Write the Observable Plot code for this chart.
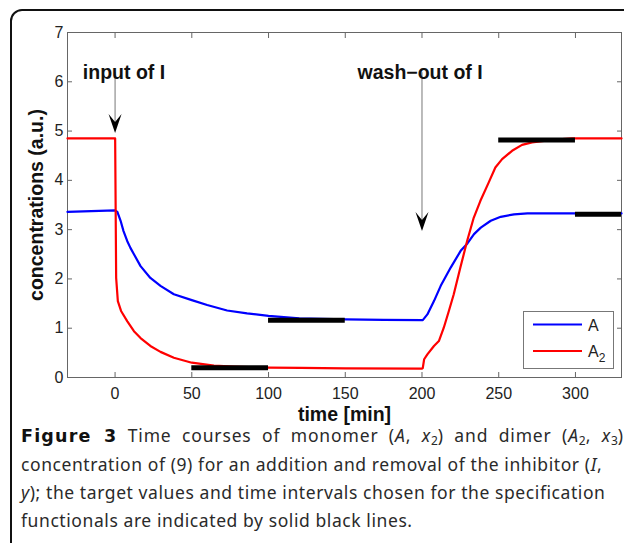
<!DOCTYPE html>
<html><head><meta charset="utf-8">
<script src="https://cdn.jsdelivr.net/npm/d3@7"></script>
<script src="https://cdn.jsdelivr.net/npm/@observablehq/plot@0.6"></script>
<style>
html,body{margin:0;padding:0;background:#fff;}
body{width:624px;height:543px;overflow:hidden;position:relative;font-family:"Liberation Sans",Arial,sans-serif;}
#chart{position:absolute;left:0;top:0;}
#frame{position:absolute;left:10px;top:9px;width:700px;height:600px;border:2px solid #111;border-top-left-radius:12px;pointer-events:none;}
#legend{position:absolute;left:523px;top:311px;}
#caption{position:absolute;left:21px;top:421px;white-space:nowrap;font-family:"Noto Sans",sans-serif;font-size:17.5px;letter-spacing:0.58px;line-height:28px;color:#2a2a2a;}
#caption b{font-family:"DejaVu Sans",sans-serif;font-weight:bold;font-size:17.5px;letter-spacing:1.2px;color:#111;}
#caption sub{font-size:12px;line-height:0;vertical-align:-3px;letter-spacing:0;}
#caption .l1{word-spacing:5px;letter-spacing:0.85px;}
</style></head>
<body>
<div id="chart"></div>
<div id="legend"></div>
<div id="caption"><span class="l1"><b>Figure 3</b> Time courses of monomer (<i>A</i>, <i>x</i><sub>2</sub>) and dimer (<i>A</i><sub>2</sub>, <i>x</i><sub>3</sub>)</span><br>concentration of (9) for an addition and removal of the inhibitor (<i>I</i>,<br><i>y</i>); the target values and time intervals chosen for the specification<br>functionals are indicated by solid black lines.</div>
<div id="frame"></div>
<script>
// ---- data ----
const timeA = [-31, 0, 1.5, 3.6, 5.5, 7.9, 10, 12.3, 16.6, 23, 29.6, 38.3, 50, 60, 73, 86, 100, 120, 150, 175, 200, 200.5, 203.5, 207.8, 212.2, 218.7, 225.2, 229.6, 233.9, 238.3, 244.8, 251.3, 260, 268.7, 285, 300, 330];
const valueA = [3.36, 3.39, 3.36, 3.18, 2.97, 2.77, 2.63, 2.5, 2.26, 2.02, 1.86, 1.69, 1.57, 1.47, 1.36, 1.30, 1.25, 1.20, 1.18, 1.17, 1.165, 1.165, 1.28, 1.55, 1.86, 2.23, 2.57, 2.72, 2.91, 3.04, 3.18, 3.26, 3.31, 3.33, 3.33, 3.33, 3.33];
const timeA2 = [-31, 0, 0.05, 0.7, 1.8, 3.9, 8, 12.3, 16.6, 23, 29.6, 38.3, 50, 64.4, 77.5, 100, 121, 150, 200, 200.5, 201.4, 203.5, 207.8, 211, 214.2, 217.5, 220.7, 225, 229.4, 233.7, 238, 243.5, 247.8, 252.2, 258.7, 265.2, 271.7, 284.8, 297.8, 330];
const valueA2 = [4.85, 4.85, 4.85, 2.02, 1.55, 1.35, 1.14, 0.94, 0.80, 0.64, 0.52, 0.40, 0.30, 0.24, 0.22, 0.20, 0.195, 0.185, 0.18, 0.19, 0.37, 0.47, 0.64, 0.74, 1.01, 1.35, 1.69, 2.23, 2.77, 3.24, 3.58, 3.96, 4.26, 4.43, 4.60, 4.72, 4.77, 4.82, 4.85, 4.85];
const targetStart = [50, 100, 250, 300];
const targetEnd = [100, 150, 300, 330];
const targetValue = [0.2, 1.16, 4.82, 3.31];
const xTicks = [0, 50, 100, 150, 200, 250, 300];
const yTicks = [0, 1, 2, 3, 4, 5, 6, 7];
const annotations = ["input of I", "wash\u2212out of I"];
const annotationX = [-21, 158];
const annotationY = [6.19, 6.19];
const arrowX = [0, 200];
const arrowTop = [5.98, 5.98];
const arrowTip = [4.96, 2.97];
const seriesNames = ["A", "A2"];
const seriesColors = ["#0000ff", "#ff0000"];

const lineA = timeA.map((t, i) => ({t, v: valueA[i]}));
const lineA2 = timeA2.map((t, i) => ({t, v: valueA2[i]}));
const targets = targetStart.map((s, i) => ({x1: s, x2: targetEnd[i], y: targetValue[i]}));
const notes = annotations.map((s, i) => ({s, x: annotationX[i], y: annotationY[i]}));
const arrows = arrowX.map((x, i) => ({x, y1: arrowTop[i], y2: arrowTip[i]}));

const dart = {
  draw(ctx) {
    ctx.moveTo(0, 0);
    ctx.lineTo(6.5, -19);
    ctx.lineTo(0, -11);
    ctx.lineTo(-6.5, -19);
    ctx.closePath();
  }
};

const tickFont = {fontSize: 16, fill: "#222"};
const chart = Plot.plot({
  width: 624,
  height: 430,
  marginLeft: 67,
  marginRight: 3,
  marginTop: 32,
  marginBottom: 53,
  style: {fontFamily: "'Liberation Sans', Arial, sans-serif", background: "transparent"},
  x: {domain: [-31, 330]},
  y: {domain: [0, 7]},
  marks: [
    Plot.axisX({ticks: xTicks, tickSize: 0, tickPadding: 10, label: null, ...tickFont}),
    Plot.axisX({ticks: xTicks, tickSize: -5, tickFormat: () => "", label: null, stroke: "#666"}),
    Plot.axisX({ticks: xTicks, anchor: "top", tickSize: -5, tickFormat: () => "", label: null, stroke: "#666"}),
    Plot.axisY({ticks: yTicks, tickSize: 0, tickPadding: 4, tickFormat: "d", label: null, ...tickFont}),
    Plot.axisY({ticks: yTicks, tickSize: -5, tickFormat: () => "", label: null, stroke: "#666"}),
    Plot.axisY({ticks: yTicks, anchor: "right", tickSize: -5, tickFormat: () => "", label: null, stroke: "#666"}),
    Plot.frame({stroke: "#666"}),
    Plot.line(lineA, {x: "t", y: "v", stroke: seriesColors[0], strokeWidth: 2.2}),
    Plot.line(lineA2, {x: "t", y: "v", stroke: seriesColors[1], strokeWidth: 2.2}),
    Plot.ruleY(targets, {x1: "x1", x2: "x2", y: "y", stroke: "#000", strokeWidth: 5}),
    Plot.ruleX(arrows, {x: "x", y1: "y1", y2: "y2", stroke: "#777", strokeWidth: 1, dy: -10}),
    Plot.dot(arrows, {x: "x", y: "y2", symbol: dart, fill: "#000", stroke: null}),
    Plot.text(notes, {x: "x", y: "y", text: "s", textAnchor: "start", fontSize: 19.5, fontWeight: "bold", fill: "#111"}),
    Plot.text(["time [min]"], {frameAnchor: "bottom", lineAnchor: "bottom", textAnchor: "middle", dy: 43, fontSize: 19.5, fontWeight: "bold", fill: "#111"}),
    Plot.text(["concentrations (a.u.)"], {frameAnchor: "left", textAnchor: "middle", lineAnchor: "middle", dx: -31, rotate: -90, fontSize: 19.5, fontWeight: "bold", fill: "#111"})
  ]
});
document.getElementById("chart").appendChild(chart);

// legend
const lw = 91, lh = 58;
const leg = d3.select("#legend").append("svg").attr("width", lw).attr("height", lh);
leg.append("rect").attr("x", 0.5).attr("y", 0.5).attr("width", lw - 1).attr("height", lh - 1).attr("fill", "#fff").attr("stroke", "#777");
seriesNames.forEach((name, i) => {
  const y = 13.5 + i * 26.5;
  leg.append("line").attr("x1", 10).attr("x2", 59).attr("y1", y).attr("y2", y).attr("stroke", seriesColors[i]).attr("stroke-width", 2.2);
  const t = leg.append("text").attr("x", 65).attr("y", y + 6).attr("font-size", 16).attr("fill", "#222")
    .attr("font-family", "'Liberation Sans', Arial, sans-serif");
  t.append("tspan").text(name[0]);
  if (name.length > 1) t.append("tspan").attr("font-size", 12).attr("dy", 5).text(name.slice(1));
});
</script>
</body></html>
